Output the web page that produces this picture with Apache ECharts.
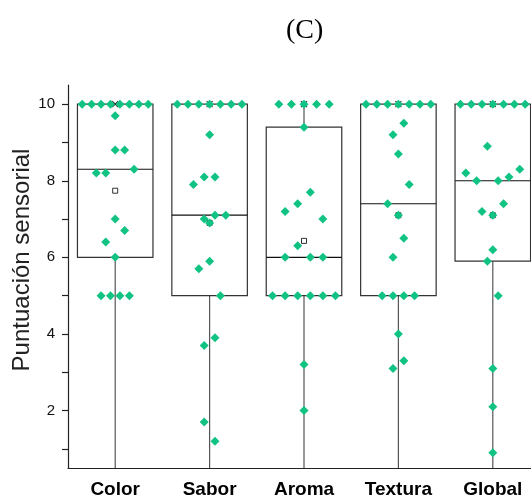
<!DOCTYPE html>
<html>
<head>
<meta charset="utf-8">
<script src="https://cdn.jsdelivr.net/npm/echarts@6/dist/echarts.min.js"></script>
<style>
  html, body { margin: 0; padding: 0; background: #fff; }
  #chart { width: 531px; height: 497px; }
</style>
</head>
<body>
<div id="chart"></div>
<script>
// categories and scores (order within a row = left to right)
const categories = ['Color', 'Sabor', 'Aroma', 'Textura', 'Global'];
const colorScores = [10, 10, 10, 10, 10, 10, 10, 10, 9.7, 8.2, 8.2, 8.8, 8.8, 8.3, 7.0, 6.4, 6.0, 6.7, 5, 5, 5, 5];
const saborScores = [10, 10, 10, 10, 10, 10, 10, 9.2, 8.1, 8.1, 7.9, 7.0, 7.1, 7.1, 6.9, 5.7, 5.9, 5.0, 3.7, 3.9, 1.7, 1.2];
const aromaScores = [10, 10, 10, 10, 10, 9.4, 7.2, 7.4, 7.7, 7.0, 6.0, 6.3, 6.0, 6.0, 5, 5, 5, 5, 5, 5, 3.2, 2.0];
const texturaScores = [10, 10, 10, 10, 10, 10, 10, 9.2, 9.5, 8.7, 7.4, 7.1, 7.9, 6.0, 6.5, 5, 5, 5, 5, 4.0, 3.1, 3.3];
const globalScores = [10, 10, 10, 10, 10, 10, 10, 8.2, 8.0, 8.9, 8.0, 8.1, 8.3, 7.2, 7.1, 7.4, 6.2, 5.9, 5.0, 3.1, 2.1, 0.9];
const allScores = [colorScores, saborScores, aromaScores, texturaScores, globalScores];

// box statistics
const q1 = [6.0, 5.0, 5.0, 5.0, 5.9];
const medians = [8.3, 7.1, 6.0, 7.4, 8.0];
const q3 = [10, 10, 9.4, 10, 10];
const upperWhisker = [10, 10, 10, 10, 10];
const means = [7.74, 6.9, 6.43, 7.1, 7.1];

const yTicks = [1, 2, 3, 4, 5, 6, 7, 8, 9, 10];
const yLabels = [2, 4, 6, 8, 10];

const BOX_FRAC = 0.8;
const GREEN = '#10c383';

// spread points of the same unit bin side by side
function swarm(values, idx) {
  const bins = {};
  values.forEach((v) => {
    const b = Math.floor(v + 1e-9);
    (bins[b] = bins[b] || []).push(v);
  });
  const maxCount = Math.max(...Object.values(bins).map((b) => b.length));
  const step = BOX_FRAC / maxCount;
  const out = [];
  Object.values(bins).forEach((b) => {
    b.forEach((v, k) => out.push([idx + (k - (b.length - 1) / 2) * step, v]));
  });
  return out;
}

const pointData = [];
allScores.forEach((vals, i) => pointData.push(...swarm(vals, i)));

const boxData = categories.map((c, i) => {
  const iqr = q3[i] - q1[i];
  return [i, q1[i] - 1.5 * iqr, q1[i], medians[i], q3[i], upperWhisker[i]];
});
const meanData = means.map((m, i) => [i, m]);
const maxData = allScores.map((vals, i) => [i, Math.max(...vals)]);

const chart = echarts.init(document.getElementById('chart'));
const option = {
  animation: false,
  title: {
    text: '(C)',
    left: 281,
    top: 12,
    textStyle: {
      fontFamily: 'Liberation Serif',
      fontWeight: 'normal',
      fontSize: 28,
      color: '#000',
    },
  },
  graphic: [
    {
      type: 'text',
      x: 22,
      y: 260,
      rotation: Math.PI / 2,
      style: {
        text: 'Puntuación sensorial',
        font: '24px "Liberation Sans"',
        fill: '#222',
        align: 'center',
        verticalAlign: 'middle',
      },
    },
  ],
  grid: {
    left: 68,
    top: 85,
    width: 472,
    height: 383,
    outerBoundsMode: 'none',
    containLabel: false,
  },
  xAxis: [
    {
      type: 'category',
      data: categories,
      axisLine: { lineStyle: { color: '#222', width: 1.2 } },
      axisTick: { alignWithLabel: true, length: 6, lineStyle: { color: '#222', width: 1.2 } },
      axisLabel: {
        fontFamily: 'Liberation Sans',
        fontWeight: 'bold',
        fontSize: 19,
        color: '#000',
        margin: 12,
      },
      splitLine: { show: false },
    },
    {
      type: 'value',
      min: -0.5,
      max: 4.5,
      show: false,
    },
  ],
  yAxis: {
    type: 'value',
    min: 0.5,
    max: 10.5,
    axisLine: { show: true, onZero: false, lineStyle: { color: '#222', width: 1.2 } },
    axisTick: { show: true, length: 6, customValues: yTicks, lineStyle: { color: '#222', width: 1.2 } },
    axisLabel: {
      customValues: yLabels,
      fontFamily: 'Liberation Sans',
      fontSize: 15,
      color: '#111',
      margin: 13,
    },
    splitLine: { show: false },
  },
  series: [
    {
      type: 'custom',
      xAxisIndex: 0,
      clip: true,
      z: 2,
      data: boxData,
      renderItem(params, api) {
        const idx = api.value(0);
        const x = api.coord([idx, 0])[0];
        const w = api.size([1, 0])[0] * BOX_FRAC;
        const yLow = api.coord([idx, api.value(1)])[1];
        const yQ1 = api.coord([idx, api.value(2)])[1];
        const yMed = api.coord([idx, api.value(3)])[1];
        const yQ3 = api.coord([idx, api.value(4)])[1];
        const yHigh = api.coord([idx, api.value(5)])[1];
        const stroke = { stroke: '#333', lineWidth: 1.2, fill: null };
        return {
          type: 'group',
          children: [
            { type: 'line', shape: { x1: x, y1: yQ1, x2: x, y2: yLow }, style: { stroke: '#555', lineWidth: 1.2 } },
            { type: 'line', shape: { x1: x, y1: yQ3, x2: x, y2: yHigh }, style: { stroke: '#555', lineWidth: 1.2 } },
            { type: 'rect', shape: { x: x - w / 2, y: yQ3, width: w, height: yQ1 - yQ3 }, style: stroke },
            { type: 'line', shape: { x1: x - w / 2, y1: yMed, x2: x + w / 2, y2: yMed }, style: { stroke: '#111', lineWidth: 1.2 } },
          ],
        };
      },
    },
    {
      type: 'scatter',
      xAxisIndex: 1,
      z: 3,
      symbol: 'rect',
      symbolSize: 5,
      itemStyle: { color: '#fff', borderColor: '#000', borderWidth: 1 },
      data: meanData,
    },
    {
      type: 'scatter',
      xAxisIndex: 1,
      z: 3,
      symbol: 'path://M0,0L10,10M10,0L0,10',
      symbolSize: 6,
      itemStyle: { color: 'none', borderColor: '#000', borderWidth: 1.2 },
      data: maxData,
    },
    {
      type: 'scatter',
      xAxisIndex: 1,
      z: 4,
      symbol: 'diamond',
      symbolSize: 9,
      itemStyle: { color: GREEN, opacity: 1 },
      data: pointData,
    },
  ],
};
chart.setOption(option);
</script>
</body>
</html>
